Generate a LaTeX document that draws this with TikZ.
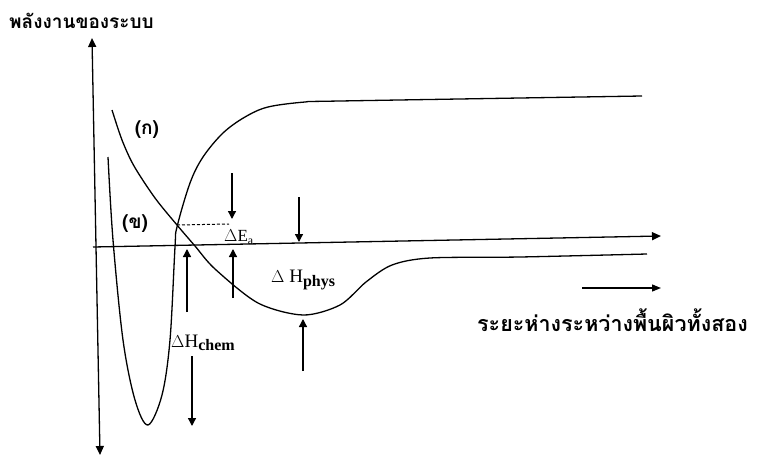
\documentclass[tikz,border=0pt]{standalone}
\usepackage{fontspec}
\setmainfont{Liberation Serif}
\newfontfamily\thaifont[Script=Thai]{Loma}
\usetikzlibrary{arrows.meta}
\tikzset{
  curve/.style={line width=1.3pt, black},
  axis/.style={line width=1.3pt, black, -{Triangle[length=9pt,width=8pt]}},
  marrow/.style={line width=1.3pt, black, -{Triangle[length=8pt,width=8pt]}},
  thlabel/.style={font=\thaifont\bfseries\fontsize{19}{21}\selectfont, inner sep=0pt},
  dlabel/.style={font=\fontsize{19}{21}\selectfont, inner sep=0pt},
}
\newcommand{\subtxt}[1]{\raisebox{-0.4ex}{\fontsize{16}{18}\selectfont\bfseries #1}}
\begin{document}
\begin{tikzpicture}[x=1pt,y=-1pt]
\useasboundingbox (0,0) rectangle (764,458);
% axes
\coordinate (ybot) at (100,455);
\coordinate (ytop) at (92,38);
\coordinate (xl) at (93,247);
\coordinate (xr) at (661,236);
\draw[line width=1.3pt, {Triangle[length=9pt,width=8pt]}-{Triangle[length=9pt,width=8pt]}] (ybot) -- (ytop);
\draw[axis] (xl) -- (xr);
% curve (k)
\draw[curve] plot[smooth, tension=0.5] coordinates {(112,110) (122,140) (134,166) (155,198) (177,225) (195,246) (215,269) (258,303) (303,315) (340,305) (366,282) (392,265) (430,258) (520,257) (647,254)};
% curve (kh)
\draw[curve] plot[smooth, tension=0.55] coordinates {(108,157) (113,240) (123,340) (135,400) (148,425) (162,395) (170,340) (175,247) (177,227) (190,183) (203,157) (223,133) (245,117) (268,107) (305,102) (340,101) (642,96)};
% dashed
\coordinate (cross) at (177,225);
\coordinate (dashend) at (229,224);
\draw[line width=1pt, dash pattern=on 3pt off 2pt] (cross) -- (dashend);
% Ea arrows
\coordinate (ea1s) at (232,173); \coordinate (ea1e) at (232,219);
\draw[marrow] (ea1s) -- (ea1e);
\coordinate (ea2s) at (233,298); \coordinate (ea2e) at (233,249);
\draw[marrow] (ea2s) -- (ea2e);
% phys arrows
\coordinate (ph1s) at (299,197); \coordinate (ph1e) at (299,242);
\draw[marrow] (ph1s) -- (ph1e);
\coordinate (ph2s) at (303,371); \coordinate (ph2e) at (303,319);
\draw[marrow] (ph2s) -- (ph2e);
% chem arrows
\coordinate (ch1s) at (187,312); \coordinate (ch1e) at (187,249);
\draw[marrow] (ch1s) -- (ch1e);
\coordinate (ch2s) at (192,356); \coordinate (ch2e) at (192,426);
\draw[marrow] (ch2s) -- (ch2e);
% distance arrow
\coordinate (da1) at (582,288); \coordinate (da2) at (661,288);
\draw[line width=1.3pt,-{Triangle[length=9pt,width=7pt]}] (da1) -- (da2);
% labels
\node[thlabel, anchor=west] (ylab) at (9,21) {พลังงานของระบบ};
\node[thlabel, anchor=west, font=\thaifont\bfseries\fontsize{21.5}{24}\selectfont] (xlab) at (477,320) {ระยะห่างระหว่างพื้นผิวทั้งสอง};
\node[thlabel] (lk) at (147,130) {(ก)};
\node[thlabel] (lkh) at (135,224) {(ข)};
\node[dlabel, anchor=west, font=\fontsize{17}{19}\selectfont] (lea) at (224,237) {$\Delta$E\textsubscript{a}};
\node[dlabel, anchor=west] (lphys) at (271,280) {$\Delta$ H\subtxt{phys}};
\node[dlabel, anchor=west] (lchem) at (171,343) {$\Delta$H\subtxt{chem}};
\end{tikzpicture}
\end{document}
